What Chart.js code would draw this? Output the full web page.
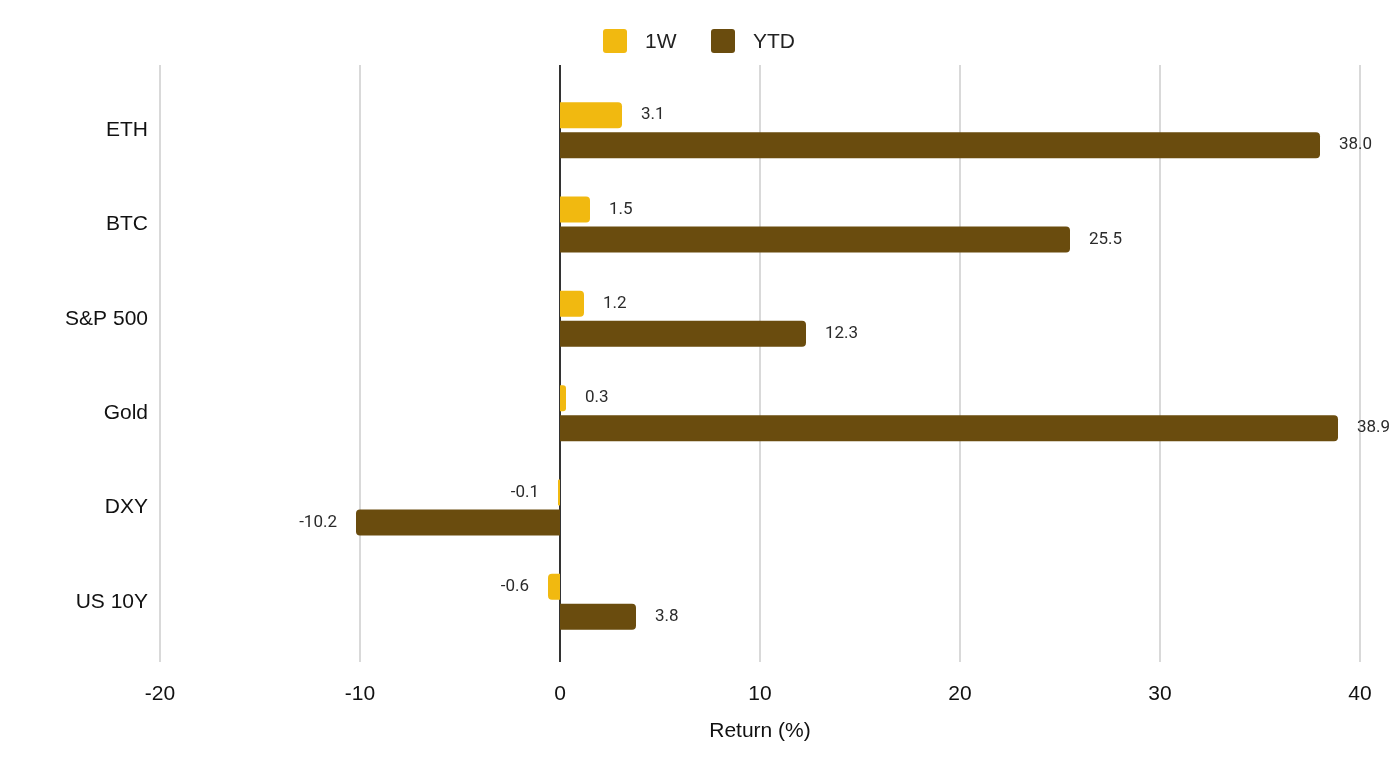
<!DOCTYPE html>
<html>
<head>
<meta charset="utf-8">
<script src="https://cdn.jsdelivr.net/npm/chart.js@4.4.1/dist/chart.umd.min.js"></script>
<style>
  html, body { margin: 0; padding: 0; background: #fff; }
  #wrap { width: 1398px; height: 762px; position: relative; }
</style>
</head>
<body>
<div id="wrap"><canvas id="chart"></canvas></div>
<script>
const categories = ['ETH', 'BTC', 'S&P 500', 'Gold', 'DXY', 'US 10Y']
const week = [3.1, 1.5, 1.2, 0.3, -0.1, -0.6]
const ytd = [38.0, 25.5, 12.3, 38.9, -10.2, 3.8]
const xTicks = [-20, -10, 0, 10, 20, 30, 40]

const FONT = '"Liberation Sans", Arial, sans-serif'
const LABEL_FONT = 'Roboto, "Noto Sans", sans-serif'
const gold = 'rgb(241, 185, 16)'
const brown = 'rgb(106, 76, 14)'

// grid lines run a bit past the bar area, like the original
const gridPlugin = {
  id: 'grid',
  beforeDatasetsDraw(chart) {
    const ctx = chart.ctx
    const x = chart.scales.x
    ctx.save()
    xTicks.forEach(v => {
      const px = Math.round(x.getPixelForValue(v))
      ctx.beginPath()
      ctx.lineWidth = v === 0 ? 2 : 1.5
      ctx.strokeStyle = v === 0 ? '#333' : '#cccccc'
      ctx.moveTo(px, 65)
      ctx.lineTo(px, 662)
      ctx.stroke()
    })
    ctx.restore()
  },
  afterDatasetsDraw(chart) {
    const ctx = chart.ctx
    ctx.save()
    ctx.font = '17px ' + LABEL_FONT
    ctx.fillStyle = '#2b2b2b'
    ctx.textBaseline = 'middle'
    chart.data.datasets.forEach((ds, i) => {
      chart.getDatasetMeta(i).data.forEach((bar, j) => {
        const v = ds.data[j]
        if (v >= 0) {
          ctx.textAlign = 'left'
          ctx.fillText(v.toFixed(1), bar.x + 19, bar.y)
        } else {
          ctx.textAlign = 'right'
          ctx.fillText(v.toFixed(1), bar.x - 19, bar.y)
        }
      })
    })
    // legend
    const items = [['1W', gold, 603], ['YTD', brown, 711]]
    ctx.font = '21px ' + FONT
    ctx.textAlign = 'left'
    items.forEach(([txt, col, bx]) => {
      ctx.fillStyle = col
      ctx.beginPath()
      ctx.roundRect(bx, 29, 24, 24, 3)
      ctx.fill()
      ctx.fillStyle = '#222'
      ctx.fillText(txt, bx + 42, 42)
    })
    ctx.restore()
  }
}

new Chart(document.getElementById('chart'), {
  type: 'bar',
  data: {
    labels: categories,
    datasets: [
      { label: '1W', data: week, backgroundColor: gold, borderRadius: 4, borderSkipped: 'start',
        categoryPercentage: 0.636, barPercentage: 0.867 },
      { label: 'YTD', data: ytd, backgroundColor: brown, borderRadius: 4, borderSkipped: 'start',
        categoryPercentage: 0.636, barPercentage: 0.867 }
    ]
  },
  options: {
    indexAxis: 'y',
    responsive: true,
    maintainAspectRatio: false,
    animation: false,
    layout: { padding: { top: 83, right: 38, left: 0, bottom: 0 } },
    plugins: {
      legend: { display: false },
      tooltip: { enabled: false }
    },
    scales: {
      x: {
        min: -20,
        max: 40,
        afterBuildTicks: s => { s.ticks = xTicks.map(v => ({ value: v })) },
        afterFit: s => { s.height = 113; s.paddingLeft = 0; s.paddingRight = 0 },
        grid: { display: false, drawTicks: false },
        border: { display: false },
        ticks: { color: '#111', font: { family: FONT, size: 21 }, padding: 33 },
        title: { display: true, text: 'Return (%)', color: '#111',
                 font: { family: FONT, size: 21 }, padding: { top: 0, bottom: 18 } }
      },
      y: {
        afterFit: s => { s.width = 160 },
        grid: { display: false, drawTicks: false },
        border: { display: false },
        ticks: { color: '#111', font: { family: FONT, size: 21 }, padding: 12 }
      }
    }
  },
  plugins: [gridPlugin]
})
</script>
</body>
</html>
